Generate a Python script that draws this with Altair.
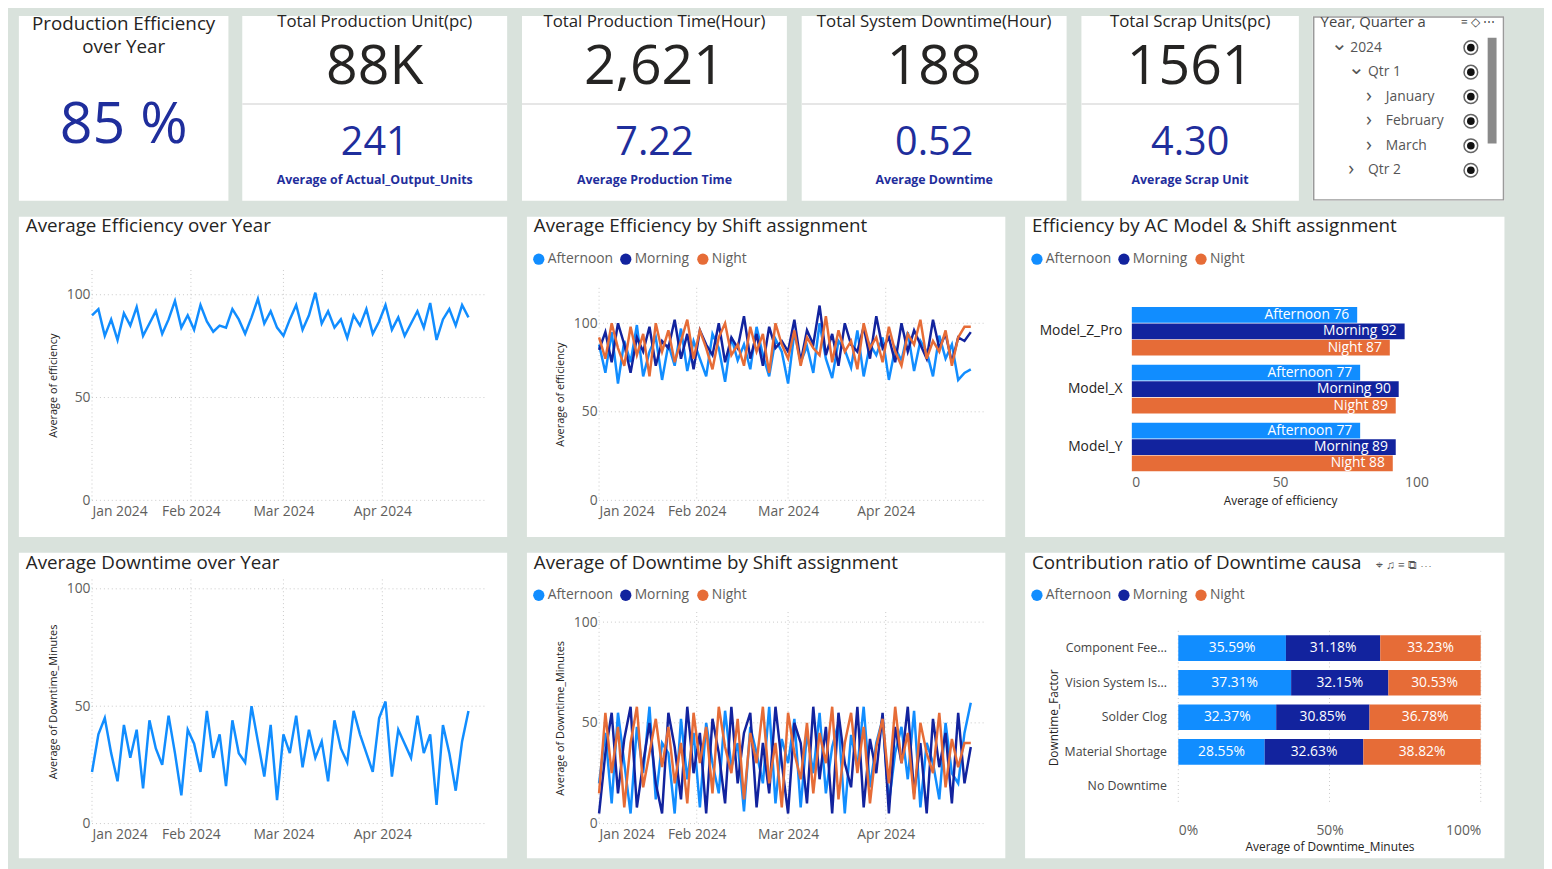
import pandas as pd
import altair as alt

F = "Open Sans"
BLUE_KPI = "#1f2e9c"
SHIFTS = ["Afternoon", "Morning", "Night"]
SHIFT_COLORS = ["#118DFF", "#12239E", "#E66C37"]

# KPI cards
kpi_titles = ["Total Production Unit(pc)", "Total Production Time(Hour)",
              "Total System Downtime(Hour)", "Total Scrap Units(pc)"]
kpi_values = ["88K", "2,621", "188", "1561"]
kpi_avgs = ["241", "7.22", "0.52", "4.30"]
kpi_avg_labels = ["Average of Actual_Output_Units", "Average  Production  Time",
                  "Average  Downtime", "Average  Scrap  Unit"]
kpi_widths = [268, 268, 268, 220]

# slicer
slicer_items = ["2024", "Qtr 1", "January", "February", "March", "Qtr 2"]
slicer_levels = [0, 1, 2, 2, 2, 1]
slicer_open = [True, True, False, False, False, False]

# time series, every 2nd day from 1 Jan 2024
eff = [90, 93, 80, 88, 78, 91, 85, 94, 80, 86, 92, 81, 88, 97, 84, 90, 83, 95, 87, 82,
       85, 84, 93, 88, 81, 89, 98, 86, 92, 84, 80, 88, 95, 83, 90, 101, 86, 92, 84, 88,
       79, 90, 85, 93, 81, 87, 95, 83, 89, 80, 86, 92, 84, 96, 78, 88, 93, 85, 95, 89]
eff_aft = [88, 72, 95, 66, 90, 78, 99, 70, 84, 92, 68, 88, 76, 97, 73, 90, 80, 70, 94, 86,
           67, 92, 79, 88, 74, 98, 82, 70, 91, 84, 66, 95, 78, 87, 72, 100, 80, 69, 90, 85,
           75, 96, 70, 88, 82, 92, 68, 86, 79, 95, 73, 90, 84, 70, 93, 80, 88, 68, 72, 74]
eff_mor = [85, 95, 78, 100, 88, 72, 92, 84, 98, 76, 90, 86, 102, 80, 94, 74, 96, 88, 82, 100,
           78, 92, 86, 104, 80, 94, 76, 98, 86, 90, 84, 102, 78, 96, 88, 110, 82, 94, 76, 100,
           88, 84, 98, 80, 104, 86, 92, 78, 100, 84, 96, 88, 80, 102, 86, 94, 78, 92, 90, 95]
eff_nig = [92, 80, 100, 86, 76, 98, 82, 94, 70, 100, 84, 96, 78, 90, 102, 80, 96, 86, 74, 92,
           100, 82, 88, 76, 98, 84, 94, 72, 100, 88, 80, 96, 76, 92, 86, 82, 104, 78, 96, 84,
           90, 74, 100, 86, 92, 78, 98, 84, 76, 94, 88, 102, 80, 90, 84, 96, 76, 92, 98, 98]
dt = [22, 38, 45, 30, 18, 42, 28, 40, 15, 44, 32, 25, 46, 30, 12, 40, 34, 22, 48, 28,
      38, 16, 44, 30, 26, 50, 35, 20, 42, 10, 38, 30, 46, 24, 40, 28, 35, 18, 44, 32,
      26, 48, 38, 30, 22, 45, 52, 20, 40, 34, 28, 46, 30, 38, 8, 42, 30, 14, 35, 48]
dt_aft = [20, 45, 10, 55, 30, 5, 48, 25, 58, 12, 40, 35, 5, 52, 22, 45, 8, 50, 30, 15,
          56, 28, 40, 6, 48, 35, 20, 58, 10, 42, 30, 52, 8, 45, 25, 55, 15, 38, 50, 5,
          44, 28, 58, 18, 40, 52, 10, 35, 48, 22, 56, 8, 40, 30, 12, 50, 25, 20, 45, 60]
dt_mor = [5, 35, 55, 15, 42, 58, 8, 30, 50, 20, 5, 55, 38, 12, 58, 25, 45, 5, 52, 35,
          10, 58, 20, 45, 55, 8, 40, 15, 58, 30, 5, 50, 40, 10, 58, 22, 48, 5, 55, 30,
          18, 58, 8, 42, 25, 55, 5, 48, 30, 58, 15, 40, 5, 52, 28, 45, 10, 55, 20, 38]
dt_nig = [15, 55, 25, 48, 8, 40, 58, 18, 35, 52, 28, 48, 20, 40, 10, 55, 30, 48, 15, 58,
          38, 25, 52, 12, 45, 30, 58, 20, 40, 8, 55, 35, 22, 50, 15, 45, 30, 58, 12, 40,
          55, 25, 48, 10, 38, 52, 20, 58, 30, 45, 12, 50, 35, 25, 55, 18, 42, 28, 40, 40]
dates = pd.date_range("2024-01-01", periods=len(eff), freq="2D").strftime("%Y-%m-%d")
months = ["2024-01-01", "2024-02-01", "2024-03-01", "2024-04-01"]

# efficiency by model
models = ["Model_Z_Pro", "Model_X", "Model_Y"]
model_eff = {"Afternoon": [76, 77, 77], "Morning": [92, 90, 89], "Night": [87, 89, 88]}

# downtime cause shares
factors = ["Component Fee...", "Vision System Is...", "Solder Clog", "Material Shortage", "No Downtime"]
factor_share = {"Afternoon": [35.59, 37.31, 32.37, 28.55],
                "Morning": [31.18, 32.15, 30.85, 32.63],
                "Night": [33.23, 30.53, 36.78, 38.82]}

one = pd.DataFrame({"a": [0]})
shift_color = alt.Scale(domain=SHIFTS, range=SHIFT_COLORS)


def txt(text, x, y, size, color="#252423", weight="normal", align="center"):
    return alt.Chart(one).mark_text(text=text, fontSize=size, font=F, color=color, fontWeight=weight,
                                    align=align, baseline="middle").encode(x=alt.value(x), y=alt.value(y))


def title_layer(title):
    return txt(title, 7, 10, 19, align="left")


def legend_layers(y=43):
    out = []
    for name, col, cx in zip(SHIFTS, SHIFT_COLORS, [12, 100, 178]):
        out.append(alt.Chart(one).mark_point(shape="circle", filled=True, opacity=1, size=130, color=col).encode(
            x=alt.value(cx), y=alt.value(y)))
        out.append(txt(name, cx + 9, y, 14, "#605E5C", align="left"))
    return out


def time_panel(series, names, ytitle, ymax, W, H, L, T, w, h, title, legend):
    B = H - T - h
    xs = alt.Scale(domain=["2024-01-01", "2024-05-03"], range=[L, L + w])
    ys = alt.Scale(domain=[0, ymax], nice=False, range=[T + h, T])
    hgrid = alt.Chart(pd.DataFrame({"g": [0, 50, 100]})).mark_rule(
        color="#c8c8c8", strokeDash=[1, 3]).encode(
        y=alt.Y("g:Q", scale=ys, title=ytitle,
                axis=alt.Axis(values=[0, 50, 100], offset=-L, titlePadding=8)),
        x=alt.value(L), x2=alt.value(L + w))
    vgrid = alt.Chart(pd.DataFrame({"m": months})).mark_rule(
        color="#c8c8c8", strokeDash=[1, 3]).encode(
        x=alt.X("m:T", scale=xs, title=None,
                axis=alt.Axis(values=months, format="%b %Y", offset=-B, labelPadding=4)),
        y=alt.value(T), y2=alt.value(T + h))
    df = pd.concat([pd.DataFrame({"date": dates, "v": s, "shift": n}) for n, s in zip(names, series)])
    enc = dict(x=alt.X("date:T", scale=xs), y=alt.Y("v:Q", scale=ys))
    if len(names) > 1:
        line = alt.Chart(df).mark_line(strokeWidth=2.5).encode(
            color=alt.Color("shift:N", scale=shift_color, legend=None), **enc)
    else:
        line = alt.Chart(df).mark_line(strokeWidth=2.5, color="#118DFF").encode(**enc)
    layers = [hgrid, vgrid, line, title_layer(title)]
    if legend:
        layers += legend_layers()
    return alt.layer(*layers).properties(width=W, height=H)


# ---------- row 1: KPI cards and slicer ----------
CARD_H = 187
cards = [alt.layer(txt("Production Efficiency", 106, 8, 19),
                   txt("over Year", 106, 31, 19),
                   txt("85 %", 106, 111, 58, BLUE_KPI)).properties(width=212, height=CARD_H)]
for t, v, a, al, w in zip(kpi_titles, kpi_values, kpi_avgs, kpi_avg_labels, kpi_widths):
    sep = alt.Chart(one).mark_rule(color="#e6e6e6", strokeWidth=2).encode(
        x=alt.value(0), x2=alt.value(w), y=alt.value(89))
    cards.append(alt.layer(sep,
                           txt(t, w / 2, 6, 17),
                           txt(v, w / 2, 52, 56, "#252423"),
                           txt(a, w / 2, 129, 40, BLUE_KPI),
                           txt(al, w / 2, 166, 12.5, BLUE_KPI, "bold")).properties(width=w, height=CARD_H))

SW = 194
slicer_layers = [alt.Chart(one).mark_rect(fill="white", stroke="#9a9a9a", strokeWidth=1.5).encode(
    x=alt.value(1), x2=alt.value(SW - 1), y=alt.value(1), y2=alt.value(CARD_H - 1)),
    txt("Year, Quarter a", 8, 6, 15, "#444", align="left"),
    txt("≡  ◇  ⋯", 150, 6, 12, "#444", align="left"),
    alt.Chart(one).mark_rect(color="#8a8a8a").encode(
        x=alt.value(177), x2=alt.value(186), y=alt.value(22), y2=alt.value(129))]
for i, (item, lvl, op) in enumerate(zip(slicer_items, slicer_levels, slicer_open)):
    y = 32 + i * 24.8
    slicer_layers.append(txt("⌄" if op else "›", 18 + lvl * 18, y - (4 if op else 1), 20, "#555", align="left"))
    slicer_layers.append(txt(item, 38 + lvl * 18, y, 14, "#555", align="left"))
    slicer_layers.append(alt.Chart(one).mark_point(shape="circle", size=190, color="#222", strokeWidth=1.5).encode(
        x=alt.value(160), y=alt.value(y)))
    slicer_layers.append(alt.Chart(one).mark_point(shape="circle", size=60, color="#111", filled=True, opacity=1).encode(
        x=alt.value(160), y=alt.value(y)))
cards.append(alt.layer(*slicer_layers).properties(width=SW, height=CARD_H))
row1 = alt.hconcat(*cards, spacing=13)

# ---------- row 2 ----------
p21 = time_panel([eff], ["all"], "Average of efficiency", 112, 494, 324, 74, 54, 397, 233,
                 "Average Efficiency over Year", False)
p22 = time_panel([eff_aft, eff_mor, eff_nig], SHIFTS, "Average of efficiency", 120, 484, 324, 73, 72, 392, 215,
                 "Average Efficiency by Shift assignment", True)

rows = []
for name in SHIFTS:
    for m, v in zip(models, model_eff[name]):
        rows.append({"model": m, "shift": name, "v": v, "label": f"{name} {v}"})
mdf = pd.DataFrame(rows)
mx = alt.X("v:Q", title="Average of efficiency", scale=alt.Scale(domain=[0, 100], nice=False, range=[108, 408]),
           axis=alt.Axis(values=[0, 50, 100], grid=False, offset=-64, titlePadding=6, titleFontSize=12))
my = alt.Y("model:N", sort=models, title=None,
           scale=alt.Scale(paddingInner=0.16, paddingOuter=0.04, range=[89, 260]),
           axis=alt.Axis(labelFontSize=14, labelColor="#252423", labelPadding=10, offset=-108))
yo = alt.YOffset("shift:N", sort=SHIFTS, scale=alt.Scale(paddingInner=0.04))
mbars = alt.Chart(mdf).mark_bar().encode(
    x=mx, y=my, yOffset=yo, color=alt.Color("shift:N", scale=shift_color, legend=None))
mtext = alt.Chart(mdf).mark_text(align="right", dx=-8, color="white", fontSize=14, font=F).encode(
    x=mx, y=my, yOffset=yo, text="label:N")
p23 = alt.layer(mbars, mtext, title_layer("Efficiency by AC Model & Shift assignment"),
                *legend_layers()).properties(width=485, height=324)
row2 = alt.hconcat(p21, p22, p23, spacing=20)

# ---------- row 3 ----------
p31 = time_panel([dt], ["all"], "Average of Downtime_Minutes", 104, 494, 309, 74, 27, 397, 247,
                 "Average Downtime over Year", False)
p32 = time_panel([dt_aft, dt_mor, dt_nig], SHIFTS, "Average of Downtime_Minutes", 105, 484, 309, 73, 60, 392, 214,
                 "Average of Downtime by Shift assignment", True)

rows = []
for i, f in enumerate(factors[:-1]):
    start = 0.0
    for name in SHIFTS:
        v = factor_share[name][i]
        rows.append({"factor": f, "shift": name, "start": start, "end": start + v,
                     "mid": start + v / 2, "label": f"{v:.2f}%"})
        start += v
fdf = pd.DataFrame(rows)
fxs = alt.Scale(domain=[0, 100], nice=False, range=[155, 461])
fy = alt.Y("factor:N", sort=factors, title="Downtime_Factor",
           scale=alt.Scale(domain=factors, paddingInner=0.26, paddingOuter=0.13, range=[79, 254]),
           axis=alt.Axis(labelFontSize=12.5, labelColor="#444", labelPadding=12, titleFontSize=12, offset=-155))
fgrid = alt.Chart(pd.DataFrame({"g": [0, 50, 100]})).mark_rule(color="#c8c8c8", strokeDash=[1, 3]).encode(
    x=alt.X("g:Q", scale=fxs, title="Average of Downtime_Minutes",
            axis=alt.Axis(values=[0, 50, 100], labelExpr="datum.value + '%'", offset=-55,
                          labelPadding=20, titlePadding=4, titleFontSize=12)),
    y=alt.value(79), y2=alt.value(254))
fbars = alt.Chart(fdf).mark_bar().encode(
    x=alt.X("start:Q", scale=fxs), x2="end:Q", y=fy,
    color=alt.Color("shift:N", scale=shift_color, legend=None))
ftext = alt.Chart(fdf).mark_text(color="white", fontSize=14, font=F).encode(
    x=alt.X("mid:Q", scale=fxs), y=fy, text="label:N")
p33 = alt.layer(fgrid, fbars, ftext, title_layer("Contribution ratio of Downtime causa"),
                txt("⌖  ♫  ≡  ⧉  ⋯", 355, 12, 12, "#555", align="left"),
                *legend_layers()).properties(width=485, height=309)
row3 = alt.hconcat(p31, p32, p33, spacing=20)

chart = alt.vconcat(row1, row2, row3, spacing=16).properties(
    background="#d9e2dc", padding={"left": 11, "top": 0, "right": 40, "bottom": 20}
).configure_view(stroke=None, fill="white").configure_axis(
    labelFont=F, titleFont=F, labelFontSize=14, labelColor="#605E5C", titleColor="#252423",
    titleFontWeight="normal", domain=False, ticks=False, grid=False
)

chart.save("out.html", embed_options={"renderer": "svg", "actions": False})
